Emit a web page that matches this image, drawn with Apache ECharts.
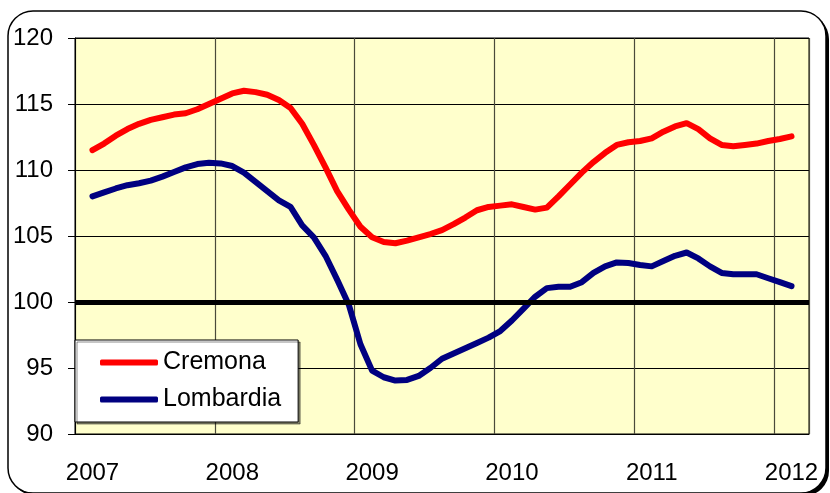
<!DOCTYPE html>
<html>
<head>
<meta charset="utf-8">
<script src="https://cdn.jsdelivr.net/npm/echarts@6/dist/echarts.min.js"></script>
<style>
  html, body { margin: 0; padding: 0; background: #fff; }
  #main { width: 830px; height: 493px; }
</style>
</head>
<body>
<div id="main"></div>
<script>
// mesi: da dic 2006 a feb 2012 (il primo e l'ultimo restano vuoti)
var months = [];
for (var y = 2006; y <= 2012; y++) {
  for (var m = 1; m <= 12; m++) {
    var key = y + '-' + (m < 10 ? '0' + m : m);
    if (key >= '2006-12' && key <= '2012-02') months.push(key);
  }
}

// valori mensili gen 2007 - gen 2012
var cremona = [
  111.5, 112.0, 112.6, 113.1, 113.5, 113.8, 114.0, 114.2, 114.3, 114.6, 115.0, 115.4,
  115.8, 116.0, 115.9, 115.7, 115.3, 114.7, 113.5, 111.9, 110.2, 108.4, 107.0, 105.7,
  104.9, 104.55, 104.45, 104.65, 104.9, 105.15, 105.45, 105.9, 106.4, 106.95, 107.2, 107.3,
  107.4, 107.2, 107.0, 107.15, 108.0, 108.9, 109.8, 110.6, 111.3, 111.9, 112.1, 112.2,
  112.4, 112.9, 113.3, 113.55, 113.1, 112.4, 111.9, 111.8, 111.9, 112.0, 112.2, 112.35,
  112.55
];
var lombardia = [
  108.0, 108.3, 108.6, 108.85, 109.0, 109.2, 109.5, 109.85, 110.2, 110.45, 110.55, 110.5,
  110.3, 109.8, 109.1, 108.4, 107.7, 107.2, 105.8, 104.9, 103.5, 101.7, 99.8, 96.8,
  94.8, 94.3, 94.05, 94.1, 94.4, 95.0, 95.7, 96.1, 96.5, 96.9, 97.3, 97.8,
  98.6, 99.5, 100.4, 101.05, 101.15, 101.15, 101.5, 102.2, 102.7, 103.0, 102.95, 102.8,
  102.7, 103.1, 103.5, 103.75, 103.3, 102.7, 102.2, 102.1, 102.1, 102.1, 101.8, 101.5,
  101.2
];
var yTicks = [90, 95, 100, 105, 110, 115, 120];
var refLevel = 100;

function pad(arr) {
  return ['-'].concat(arr).concat(['-']);
}

var font = "'Liberation Sans', Arial, sans-serif";
var myChart = echarts.init(document.getElementById('main'));

var option = {
  backgroundColor: '#fff',
  animation: false,
  graphic: [{
    type: 'rect',
    z: -10,
    shape: { x: 11, y: 14, width: 818, height: 482, r: 25 },
    style: { fill: '#000' }
  }, {
    type: 'rect',
    z: -9,
    shape: { x: 8, y: 11, width: 818, height: 482, r: 25 },
    style: { fill: '#fff', stroke: '#000', lineWidth: 1.5 }
  }],
  grid: {
    left: 75,
    right: 21,
    top: 38,
    bottom: 59,
    show: true,
    backgroundColor: '#FFFFCC',
    borderColor: '#000',
    borderWidth: 1
  },
  legend: {
    orient: 'vertical',
    left: 75,
    top: 340,
    data: ['Cremona', 'Lombardia'],
    icon: 'roundRect',
    itemWidth: 58,
    itemHeight: 6,
    itemGap: 12,
    padding: [10, 17, 10, 25],
    backgroundColor: '#fff',
    borderColor: '#000',
    borderWidth: 1,
    shadowColor: 'rgba(0,0,0,0.45)',
    shadowOffsetX: 2,
    shadowOffsetY: 2,
    textStyle: { fontFamily: font, fontSize: 25, color: '#000' }
  },
  xAxis: {
    type: 'category',
    data: months,
    boundaryGap: true,
    axisLine: { show: true, lineStyle: { color: '#000', width: 1 } },
    axisTick: { show: false },
    axisLabel: {
      interval: function(index) { return index % 12 === 1; },
      formatter: function(v) { return v.substr(0, 4); },
      margin: 27,
      fontFamily: font,
      fontSize: 24,
      color: '#000'
    },
    splitLine: {
      show: true,
      interval: function(index) { return index % 12 === 0; },
      lineStyle: { color: '#4a4a3a', width: 1.2 }
    }
  },
  yAxis: {
    type: 'value',
    min: yTicks[0],
    max: yTicks[yTicks.length - 1],
    interval: 5,
    axisLine: { show: true, lineStyle: { color: '#000', width: 1 } },
    axisTick: { show: true, length: 7, lineStyle: { color: '#000' } },
    axisLabel: { margin: 22, fontFamily: font, fontSize: 24, color: '#000' },
    splitLine: { show: true, lineStyle: { color: '#000', width: 1 } }
  },
  series: [{
    name: 'ref',
    type: 'line',
    data: [],
    z: 1,
    silent: true,
    markLine: {
      silent: true,
      symbol: 'none',
      label: { show: false },
      lineStyle: { color: '#000', width: 5, type: 'solid' },
      data: [{ yAxis: refLevel }]
    }
  }, {
    name: 'Cremona',
    type: 'line',
    data: pad(cremona),
    z: 3,
    symbol: 'none',
    color: '#FF0000',
    lineStyle: { color: '#FF0000', width: 6, cap: 'round', join: 'round' }
  }, {
    name: 'Lombardia',
    type: 'line',
    data: pad(lombardia),
    z: 3,
    symbol: 'none',
    color: '#000080',
    lineStyle: { color: '#000080', width: 6, cap: 'round', join: 'round' }
  }]
};

myChart.setOption(option);
</script>
</body>
</html>
